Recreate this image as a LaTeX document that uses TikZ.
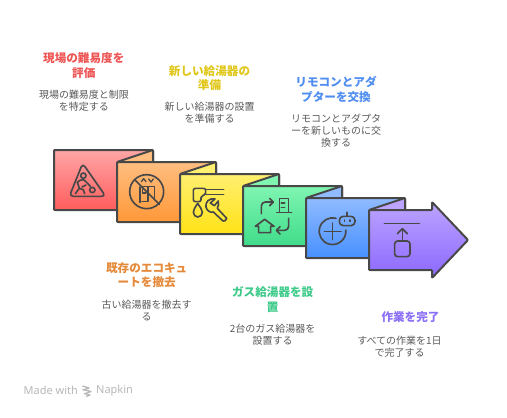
\documentclass[tikz,border=0pt]{standalone}
\usepackage{fontspec}
\setmainfont{Noto Sans CJK JP}
\newfontfamily\wmfont{Noto Sans}
\definecolor{ink}{HTML}{484848}
\definecolor{desc}{HTML}{5A5A5A}
\definecolor{wm}{HTML}{B8B8B8}
\definecolor{rT}{HTML}{FFA6A6}\definecolor{rB}{HTML}{FF5C5C}
\definecolor{oT}{HTML}{FFBE80}\definecolor{oB}{HTML}{FF9838}
\definecolor{yT}{HTML}{FFF070}\definecolor{yB}{HTML}{FFE216}
\definecolor{gT}{HTML}{80F5B2}\definecolor{gB}{HTML}{3FDC8A}
\definecolor{bT}{HTML}{90BBFF}\definecolor{bB}{HTML}{4790FF}
\definecolor{pT}{HTML}{BCA4FF}\definecolor{pB}{HTML}{8C68FF}
\definecolor{tR}{HTML}{EE5555}\definecolor{tO}{HTML}{E58A3A}
\definecolor{tY}{HTML}{E0C71A}\definecolor{tG}{HTML}{3ECB8A}
\definecolor{tB}{HTML}{4F8DF0}\definecolor{tP}{HTML}{8B6FF7}
\tikzset{
  panel/.style={draw=ink,line width=2pt,line join=round,rounded corners=0.8pt},
  icon/.style={draw=ink,line width=1.65pt,line cap=round,line join=round},
  titletext/.style={font=\bfseries\fontsize{11.6}{14.5}\selectfont,align=center,inner sep=0pt},
  desctext/.style={font=\fontsize{10}{12}\selectfont,align=center,inner sep=0pt,text=desc},
  zoomed/.style={x=0.33333pt,y=-0.33333pt}
}
\begin{document}
\begin{tikzpicture}[x=1pt,y=-1pt]
\useasboundingbox[fill=white] (0,0) rectangle (507,418);
% panels
\draw[panel,top color=rT,bottom color=rB] (54,150) rectangle (153,210);
\draw[panel,fill=oT] (117,162) -- (153,150) -- (153,162) -- cycle;
\draw[panel,top color=oT,bottom color=oB] (117,162) rectangle (216,222);
\draw[panel,fill=yT] (180,174) -- (216,162) -- (216,174) -- cycle;
\draw[panel,top color=yT,bottom color=yB] (180,174) rectangle (279,234);
\draw[panel,fill=gT] (243,186) -- (279,174) -- (279,186) -- cycle;
\draw[panel,top color=gT,bottom color=gB] (243,186) rectangle (342,246);
\draw[panel,fill=bT] (306,198) -- (342,186) -- (342,198) -- cycle;
\draw[panel,top color=bT,bottom color=bB] (306,198) rectangle (405,258);
\draw[panel,fill=pT] (369,210) -- (405,198) -- (405,210) -- cycle;
\draw[panel,top color=pT,bottom color=pB] (369,210) -- (432,210) -- (432,202) -- (468,240) -- (432,278) -- (432,270) -- (369,270) -- cycle;
% icon 1
\begin{scope}[shift={(60,155)},zoomed]
\draw[icon,rounded corners=4pt] (68,25) -- (28,124) -- (137,124) -- cycle;
\draw[icon] (70,62) circle (8);
\draw[icon] (52,82) .. controls (62,72) and (72,72) .. (78,80) -- (92,95);
\draw[icon] (52,82) -- (58,100) -- (46,116);
\draw[icon] (58,100) -- (70,104) -- (74,116);
\draw[icon] (78,90) -- (66,96);
\draw[icon] (97,105) circle (8);
\end{scope}
% icon 2
\begin{scope}[shift={(122,167)},zoomed]
\draw[icon] (74,74) circle (51);
\draw[icon] (38,38) -- (112,112);
\draw[icon] (54,60) -- (54,106);
\draw[icon] (60,104) -- (78,104) -- (78,58) -- (98,58) -- (98,96);
\draw[icon] (78,58) -- (62,58) -- (62,78) -- (72,78);
\draw[icon,line width=1.3pt] (58,44) -- (65,35) -- (72,44);
\draw[icon,line width=1.3pt] (80,36) -- (87,45) -- (94,36);
\end{scope}
% icon 3
\begin{scope}[shift={(185,179)},zoomed]
\draw[icon,rounded corners=2pt] (25,28) -- (62,28) -- (62,48) -- (48,50) -- (48,68) -- (25,68) -- cycle;
\draw[icon] (62,31) -- (116,31);
\draw[icon] (62,46) -- (116,46);
\draw[icon] (38,73) .. controls (30,86) and (25,92) .. (25,100) .. controls (25,108) and (32,114) .. (38,114) .. controls (46,114) and (52,108) .. (52,100) .. controls (52,92) and (46,86) .. (38,73) -- cycle;
\draw[icon] (90,60) .. controls (72,56) and (60,70) .. (63,84) .. controls (65,96) and (78,102) .. (85,99) -- (114,126) .. controls (118,128) and (124,124) .. (125,118) -- (97,88) .. controls (100,82) and (102,74) .. (100,66) -- (88,80) -- (76,72) -- cycle;
\end{scope}
% icon 4
\begin{scope}[shift={(248,191)},zoomed]
\draw[icon,rounded corners=4pt] (40,68) -- (40,33) -- (75,33);
\draw[icon] (65,22) -- (76,33) -- (65,44);
\draw[icon] (95,62) -- (95,22) -- (121,22) -- (121,62);
\draw[icon] (86,65) -- (131,65);
\draw[icon] (100,36) -- (110,36);
\draw[icon] (100,49) -- (110,49);
\draw[icon] (22,106) -- (50,85) -- (78,106) -- (68,106) -- (68,125) -- (32,125) -- (32,106) -- cycle;
\draw[icon,rounded corners=4pt] (122,82) -- (122,118) -- (86,118);
\draw[icon] (96,107) -- (85,118) -- (96,129);
\end{scope}
% icon 5
\begin{scope}[shift={(311,203)},zoomed]
\draw[icon] (75,46) arc[start angle=-75,end angle=-365,radius=40];
\draw[icon] (40,85) -- (90,85);
\draw[icon] (65,60) -- (65,110);
\draw[icon,rounded corners=4pt] (85,40) rectangle (132,68);
\draw[icon] (100,51) -- (100,55);
\draw[icon] (117,51) -- (117,55);
\draw[icon] (108,40) -- (108,28);
\end{scope}
% icon 6
\begin{scope}[shift={(374,215)},zoomed]
\draw[icon] (31,25) -- (136,25);
\draw[icon] (85,76) -- (85,42);
\draw[icon] (70,56) -- (85,41) -- (100,56);
\draw[icon,rounded corners=3pt] (62,78) rectangle (108,125);
\end{scope}
% labels
\node[titletext,text=tR] (t1) at (83.8,65.5) {現場の難易度を\\評価};
\node[desctext] (d1) at (84,101) {現場の難易度と制限\\を特定する};
\node[titletext,text=tY] (t3) at (209.5,78) {新しい給湯器の\\準備};
\node[desctext] (d3) at (209.7,113) {新しい給湯器の設置\\を準備する};
\node[titletext,text=tB] (t5) at (336,89.5) {リモコンとアダ\\プターを交換};
\node[desctext] (d5) at (336,131) {リモコンとアダプタ\\ーを新しいものに交\\換する};
\node[titletext,text=tO] (t2) at (146.7,275) {既存のエコキュ\\ートを撤去};
\node[desctext] (d2) at (146.7,311) {古い給湯器を撤去す\\る};
\node[titletext,text=tG] (t4) at (272.7,299.5) {ガス給湯器を設\\置};
\node[desctext] (d4) at (272.7,335) {2台のガス給湯器を\\設置する};
\node[titletext,text=tP] (t6) at (410.5,317.5) {作業を完了};
\node[desctext] (d6) at (399.5,347) {すべての作業を1日\\で完了する};
% watermark
\node[font=\wmfont\fontsize{11}{12}\selectfont,text=wm,anchor=west,inner sep=0pt] (w1) at (23.5,390.5) {Made with};
\node[font=\wmfont\fontsize{11}{12}\selectfont,text=wm,anchor=west,inner sep=0pt] (w2) at (96,390.5) {Napkin};
\draw[wm,line width=1.3pt,line join=round] (82.5,386) -- (89,388) -- (83,390);
\draw[wm,line width=1.3pt,line join=round] (82.5,389.5) -- (91,391.5) -- (84,394);
\draw[wm,line width=1.3pt,line join=round] (85,393.5) -- (90,395) -- (86,396.5);
\end{tikzpicture}
\end{document}
